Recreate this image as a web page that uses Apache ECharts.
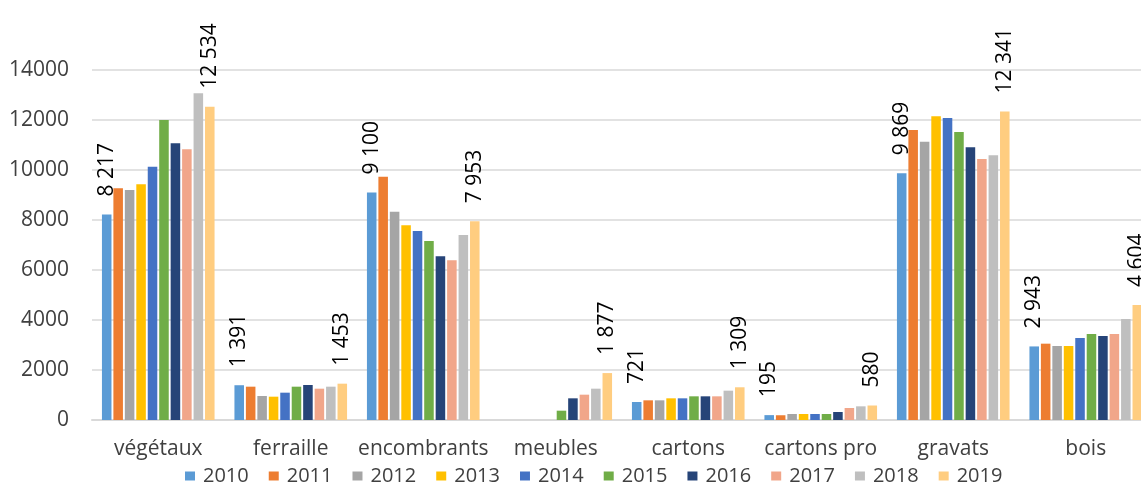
<!DOCTYPE html>
<html>
<head>
<meta charset="utf-8">
<script src="https://cdn.jsdelivr.net/npm/echarts@6/dist/echarts.min.js"></script>
<style>
html,body{margin:0;padding:0;background:#fff;overflow:hidden;width:1141px;height:484px;}
#chart{width:1160px;height:484px;}
</style>
</head>
<body>
<div id="chart"></div>
<script>
const categories = ['végétaux','ferraille','encombrants','meubles','cartons','cartons pro','gravats','bois'];
const years = ['2010','2011','2012','2013','2014','2015','2016','2017','2018','2019'];
const yTicks = [0,2000,4000,6000,8000,10000,12000,14000];

const v2010 = [8217, 1391, 9100, null, 721, 195, 9869, 2943];
const v2011 = [9267, 1333, 9733, null, 787, 190, 11600, 3053];
const v2012 = [9200, 960, 8333, null, 787, 240, 11133, 2960];
const v2013 = [9427, 933, 7787, null, 867, 240, 12147, 2960];
const v2014 = [10133, 1093, 7560, null, 867, 240, 12080, 3280];
const v2015 = [12000, 1333, 7160, 373, 947, 240, 11520, 3440];
const v2016 = [11067, 1400, 6547, 867, 947, 320, 10907, 3360];
const v2017 = [10827, 1253, 6387, 1013, 947, 480, 10440, 3440];
const v2018 = [13067, 1333, 7400, 1253, 1173, 547, 10587, 4040];
const v2019 = [12534, 1453, 7953, 1877, 1309, 580, 12341, 4604];

const seriesValues = [v2010,v2011,v2012,v2013,v2014,v2015,v2016,v2017,v2018,v2019];
const colors = ['#5B9BD5','#ED7D31','#A5A5A5','#FFC000','#4472C4','#70AD47','#264478','#F1A68A','#BFBFBF','#FFCD80'];
const labelled = ['2010','2019'];

const FONT = '"Open Sans", "Liberation Sans", sans-serif';
function fmt(v){ return String(v).replace(/\B(?=(\d{3})+(?!\d))/g, ' '); }

const chart = echarts.init(document.getElementById('chart'), null, {renderer:'canvas'});
chart.setOption({
  animation: false,
  backgroundColor: '#fff',
  color: colors,
  grid: {left: 92, top: 70, right: 8, height: 350, containLabel: false},
  legend: {
    data: years,
    left: 185, top: 466, padding: 0,
    itemWidth: 10, itemHeight: 9, itemGap: 20,
    icon: 'rect',
    textStyle: {fontFamily: FONT, fontSize: 20, color: '#404040', padding: [0,0,0,3]}
  },
  xAxis: {
    type: 'category',
    data: categories,
    axisLine: {lineStyle: {color: '#d9d9d9', width: 2}},
    axisTick: {show: false},
    axisLabel: {fontFamily: FONT, fontSize: 21, color: '#404040', margin: 19, interval: 0}
  },
  yAxis: {
    type: 'value',
    min: yTicks[0], max: yTicks[yTicks.length-1], interval: 2000,
    axisLine: {show: false},
    axisTick: {show: false},
    splitLine: {lineStyle: {color: '#d9d9d9', width: 1.5}},
    axisLabel: {fontFamily: FONT, fontSize: 21, color: '#404040', margin: 23, formatter: v => String(v)}
  },
  series: years.map((y, i) => ({
    name: y,
    type: 'bar',
    data: seriesValues[i],
    barGap: '20%',
    barCategoryGap: '15%',
    itemStyle: {color: colors[i]},
    label: {
      show: labelled.includes(y),
      position: 'top',
      rotate: 90,
      align: 'left',
      verticalAlign: 'middle',
      distance: 18,
      fontFamily: FONT,
      fontSize: 21,
      color: '#000',
      formatter: p => p.value == null ? '' : fmt(p.value)
    }
  }))
});
</script>
</body>
</html>
